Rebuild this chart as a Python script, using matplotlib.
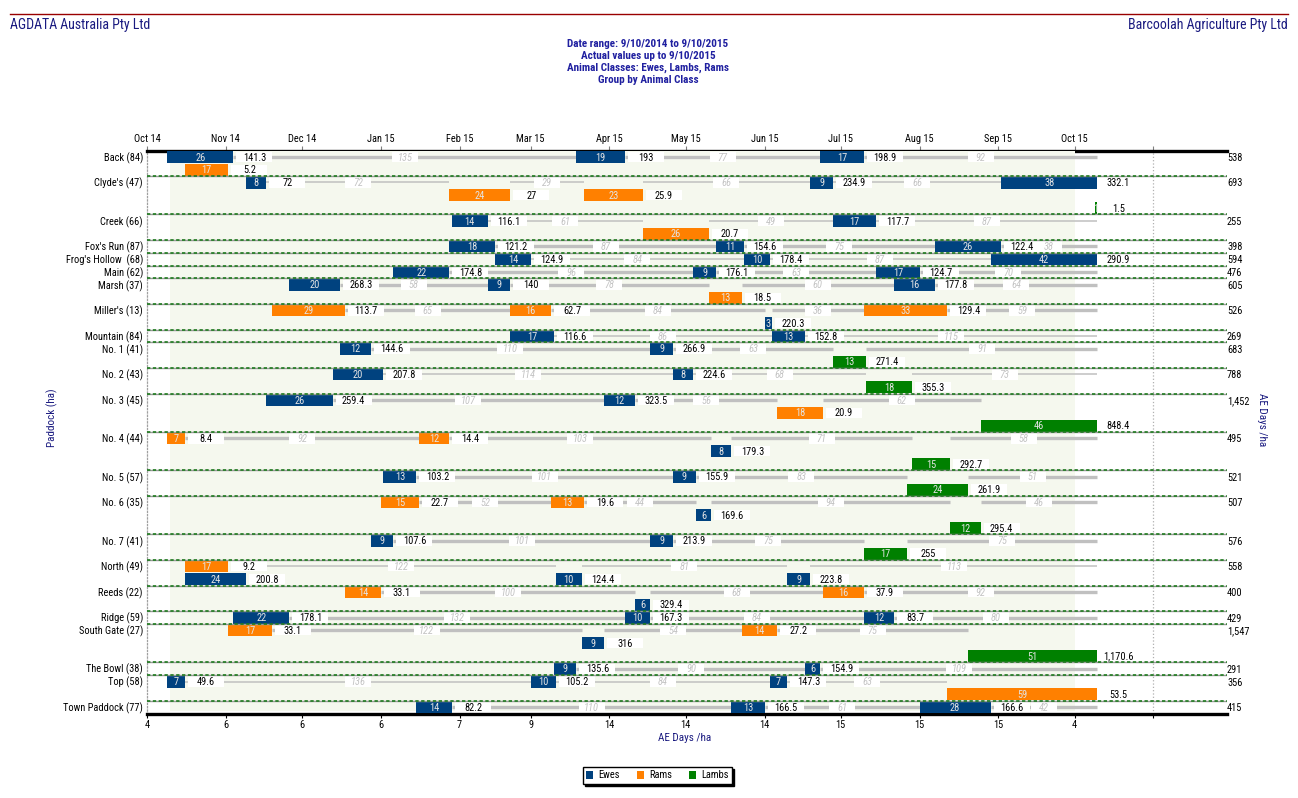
import matplotlib
matplotlib.use("Agg")
import matplotlib.pyplot as plt
import matplotlib.dates as mdates
from matplotlib.patches import Patch, Rectangle
from matplotlib.lines import Line2D
from matplotlib import font_manager
import numpy as np
import pandas as pd

# prefer a narrow face if one is installed
available = {f.name for f in font_manager.fontManager.ttflist}
narrow = [f for f in ['Liberation Sans Narrow', 'Roboto Condensed', 'DejaVu Sans Condensed'] if f in available]
plt.rcParams['font.family'] = narrow + ['Liberation Sans', 'DejaVu Sans']
scale = 1.0 if narrow else 0.9

# Paddocks, top to bottom, with the AE days/ha total shown on the right
paddocks = ["Back (84)", "Clyde's (47)", "Creek (66)", "Fox's Run (87)", "Frog's Hollow  (68)",
            "Main (62)", "Marsh (37)", "Miller's (13)", "Mountain (84)", "No. 1 (41)", "No. 2 (43)",
            "No. 3 (45)", "No. 4 (44)", "No. 5 (57)", "No. 6 (35)", "No. 7 (41)", "North (49)",
            "Reeds (22)", "Ridge (59)", "South Gate (27)", "The Bowl (38)", "Top (58)",
            "Town Paddock (77)"]
totals = ["538", "693", "255", "398", "594", "476", "605", "526", "269", "683", "788", "1,452",
          "495", "521", "507", "576", "558", "400", "429", "1,547", "291", "356", "415"]
lanes = [2, 3, 2, 1, 1, 1, 2, 2, 1, 2, 2, 3, 3, 2, 3, 2, 2, 2, 1, 3, 1, 2, 1]

# Grazing periods: paddock, lane, class, start (days after 9/10/2014), days, AE days/ha
bar_paddock = [0, 0, 0, 0,  1, 1, 1, 1, 1, 1,  2, 2, 2,  3, 3, 3,  4, 4, 4,  5, 5, 5,
               6, 6, 6, 6,  7, 7, 7, 7,  8, 8,  9, 9, 9,  10, 10, 10,  11, 11, 11, 11,
               12, 12, 12, 12,  13, 13, 13,  14, 14, 14, 14,  15, 15, 15,  16, 16, 16, 16,
               17, 17, 17,  18, 18, 18,  19, 19, 19, 19,  20, 20,  21, 21, 21, 21,  22, 22, 22]
bar_lane = [0, 1, 0, 0,  0, 1, 1, 0, 0, 2,  0, 1, 0,  0, 0, 0,  0, 0, 0,  0, 0, 0,
            0, 0, 1, 0,  0, 0, 1, 0,  0, 0,  0, 0, 1,  0, 0, 1,  0, 0, 1, 2,
            0, 0, 1, 2,  0, 0, 1,  0, 0, 1, 2,  0, 0, 1,  0, 1, 1, 1,
            0, 1, 0,  0, 0, 0,  0, 1, 0, 2,  0, 0,  0, 0, 0, 1,  0, 0, 0]
bar_class = ['E', 'R', 'E', 'E',  'E', 'R', 'R', 'E', 'E', 'L',  'E', 'R', 'E',  'E', 'E', 'E',
             'E', 'E', 'E',  'E', 'E', 'E',  'E', 'E', 'R', 'E',  'R', 'R', 'E', 'R',  'E', 'E',
             'E', 'E', 'L',  'E', 'E', 'L',  'E', 'E', 'R', 'L',  'R', 'R', 'E', 'L',
             'E', 'E', 'L',  'R', 'R', 'E', 'L',  'E', 'E', 'L',  'R', 'E', 'E', 'E',
             'R', 'E', 'R',  'E', 'E', 'E',  'R', 'E', 'R', 'L',  'E', 'E',  'E', 'E', 'E', 'R',
             'E', 'E', 'E']
bar_start = [0, 7, 161, 257,  31, 111, 164, 253, 328, 365,  112, 187, 262,  111, 216, 302,
             129, 227, 324,  89, 207, 279,  48, 126, 213, 286,  41, 135, 235, 274,  135, 238,
             68, 190, 262,  65, 199, 275,  39, 172, 240, 320,  0, 99, 214, 293,
             85, 199, 291,  84, 151, 208, 308,  80, 190, 274,  7, 7, 153, 244,
             70, 184, 258,  26, 180, 274,  24, 163, 226, 315,  152, 251,  0, 143, 237, 307,
             98, 222, 296]
bar_days = [26, 17, 19, 17,  8, 24, 23, 9, 38, 1,  14, 26, 17,  18, 11, 26,  14, 10, 42,
            22, 9, 17,  20, 9, 13, 16,  29, 16, 3, 33,  17, 13,  12, 9, 13,  20, 8, 18,
            26, 12, 18, 46,  7, 12, 8, 15,  13, 9, 24,  15, 13, 6, 12,  9, 9, 17,
            17, 24, 10, 9,  14, 6, 16,  22, 10, 12,  17, 9, 14, 51,  9, 6,  7, 10, 7, 59,
            14, 13, 28]
bar_value = ['141.3', '5.2', '193', '198.9',  '72', '27', '25.9', '234.9', '332.1', '1.5',
             '116.1', '20.7', '117.7',  '121.2', '154.6', '122.4',  '124.9', '178.4', '290.9',
             '174.8', '176.1', '124.7',  '268.3', '140', '18.5', '177.8',
             '113.7', '62.7', '220.3', '129.4',  '116.6', '152.8',  '144.6', '266.9', '271.4',
             '207.8', '224.6', '355.3',  '259.4', '323.5', '20.9', '848.4',
             '8.4', '14.4', '179.3', '292.7',  '103.2', '155.9', '261.9',
             '22.7', '19.6', '169.6', '295.4',  '107.6', '213.9', '255',
             '9.2', '200.8', '124.4', '223.8',  '33.1', '329.4', '37.9',
             '178.1', '167.3', '83.7',  '33.1', '316', '27.2', '1,170.6',  '135.6', '154.9',
             '49.6', '105.2', '147.3', '53.5',  '82.2', '166.5', '166.6']

class_names = {'E': 'Ewes', 'R': 'Rams', 'L': 'Lambs'}
class_colors = {'E': '#00427f', 'R': '#ff8000', 'L': '#008000'}

month_top = ['Oct 14', 'Nov 14', 'Dec 14', 'Jan 15', 'Feb 15', 'Mar 15', 'Apr 15', 'May 15',
             'Jun 15', 'Jul 15', 'Aug 15', 'Sep 15', 'Oct 15', '']
month_bottom = ['4', '6', '6', '6', '7', '9', '14', '14', '14', '15', '15', '15', '4', '']

# paddocks whose rest lines are drawn thin
thin_rest = [1, 2, 4, 8, 10, 16, 21]

range_start = pd.Timestamp('2014-10-09')
range_days = 366

fs = 7.5 * scale

fig = plt.figure(figsize=(12.98, 7.98), dpi=100)
W, H = 1298.0, 798.0
ax = fig.add_axes([147 / W, 1 - 713.5 / H, 1080 / W, 563 / H])

x0 = mdates.date2num(pd.Timestamp('2014-10-01'))
x1 = mdates.date2num(pd.Timestamp('2015-11-30'))
t0 = mdates.date2num(range_start)
ax.set_xlim(x0, x1)
nlanes = sum(lanes)
ax.set_ylim(nlanes, 0)
px = (x1 - x0) / 1080.0  # days per pixel

first_lane = np.concatenate([[0], np.cumsum(lanes)[:-1]])

# light shade for the reporting period
ax.axvspan(mdates.date2num(pd.Timestamp('2014-10-10')), mdates.date2num(pd.Timestamp('2015-10-01')),
           ymin=0.004, ymax=1, color='#f5f8ee', lw=0, zorder=2.6)
ax.axvline(mdates.date2num(pd.Timestamp('2015-11-01')), color='#b0b0b0', ls=':', lw=0.9, zorder=1)

# separators between paddocks
for fl in first_lane[1:]:
    ax.axhline(fl, color='#9a9a9a', lw=1.0, zorder=7)
    ax.axhline(fl, color='#1e7a1e', lw=1.2, ls=(0, (2, 1.5)), zorder=7.1)

# rest periods (paddock empty) on the first lane of each paddock
for p in range(len(paddocks)):
    idx = [i for i in range(len(bar_paddock)) if bar_paddock[i] == p]
    iv = sorted((bar_start[i], bar_start[i] + bar_days[i]) for i in idx)
    cur = iv[0][1]
    gaps = []
    for a, b in iv[1:]:
        if a > cur:
            gaps.append((cur, a))
        cur = max(cur, b)
    if cur < range_days:
        gaps.append((cur, range_days))
    yc = first_lane[p] + 0.5
    lw = 1.1 if p in thin_rest else 2.4
    for a, b in gaps:
        ax.plot([t0 + a, t0 + b], [yc, yc], color='#c0c0c0', lw=lw, solid_capstyle='butt', zorder=3)
        mid = t0 + (a + b) / 2.0
        ax.add_patch(Rectangle((mid - 13 * px, yc - 0.4), 26 * px, 0.8, fc='white', ec='none', zorder=5))
        ax.text(mid, yc + 0.05, str(int(round(b - a))), ha='center', va='center', fontsize=fs,
                style='italic', color='#c4c4c4', zorder=6)

# grazing bars with days inside and AE days/ha beside
for i in range(len(bar_paddock)):
    yc = first_lane[bar_paddock[i]] + bar_lane[i] + 0.5
    left = t0 + bar_start[i]
    ax.barh(yc, bar_days[i], left=left, height=0.94, color=class_colors[bar_class[i]],
            lw=0, zorder=4)
    ax.text(left + bar_days[i] / 2.0, yc + 0.05, str(bar_days[i]), ha='center', va='center',
            fontsize=fs, color='#e4e4e4', zorder=4.5)
    end = left + bar_days[i]
    ax.add_patch(Rectangle((end + 3 * px, yc - 0.4), 36 * px, 0.8, fc='white', ec='none', zorder=5))
    ax.text(end + 21 * px, yc + 0.05, bar_value[i], ha='center', va='center', fontsize=fs,
            color='black', zorder=6)

# paddock names and totals
for p in range(len(paddocks)):
    yc = first_lane[p] + 0.5
    ax.annotate(paddocks[p], xy=(0, yc), xycoords=('axes fraction', 'data'), xytext=(-4, -1),
                textcoords='offset pixels', ha='right', va='center', fontsize=fs)
    ax.annotate(totals[p], xy=(1, yc), xycoords=('axes fraction', 'data'), xytext=(0, -1),
                textcoords='offset pixels', ha='left', va='center', fontsize=fs)

# axes styling
for s in ['top', 'bottom']:
    ax.spines[s].set_linewidth(2.4)
    ax.spines[s].set_color('black')
ax.spines['right'].set_visible(False)
ax.spines['left'].set_linestyle(':')
ax.spines['left'].set_color('#a0a0a0')
ax.spines['left'].set_linewidth(0.9)
ax.set_yticks([])

ticks = mdates.date2num(pd.date_range('2014-10-01', '2015-11-01', freq='MS'))
ax.set_xticks(ticks)
ax.set_xticklabels(month_bottom)
ax.tick_params(axis='x', direction='out', length=3, width=0.8, pad=2, labelsize=fs)
sec = ax.secondary_xaxis('top')
sec.set_xticks(ticks)
sec.set_xticklabels(month_top)
sec.tick_params(axis='x', direction='out', length=3, width=0.8, pad=2, labelsize=fs, color='#808080')
sec.spines['top'].set_visible(False)

navy = '#1a1a80'
fig.add_artist(Line2D([10 / W, 1288 / W], [1 - 14 / H, 1 - 14 / H], color='#990000', lw=1,
                      transform=fig.transFigure))
fig.text(10 / W, 1 - 25 / H, 'AGDATA Australia Pty Ltd', ha='left', va='center',
         fontsize=10 * (1.0 if narrow else 0.85), color=navy)
fig.text(1288 / W, 1 - 25 / H, 'Barcoolah Agriculture Pty Ltd', ha='right', va='center',
         fontsize=10 * (1.0 if narrow else 0.85), color=navy)
header = ['Date range: 9/10/2014 to 9/10/2015', 'Actual values up to 9/10/2015',
          'Animal Classes: Ewes, Lambs, Rams', 'Group by Animal Class']
for k, line in enumerate(header):
    fig.text(648 / W, 1 - (44 + 12 * k) / H, line, ha='center', va='center',
             fontsize=8 * (1.0 if narrow else 0.93), fontweight='bold', color='#2020a0')

fig.text(685 / W, 1 - 738 / H, 'AE Days /ha', ha='center', va='center', fontsize=8, color=navy)
fig.text(52 / W, 1 - 418 / H, 'Paddock (ha)', ha='center', va='center', rotation=90, fontsize=8,
         color=navy)
fig.text(1262 / W, 1 - 420 / H, 'AE Days /ha', ha='center', va='center', rotation=270, fontsize=8,
         color=navy)

handles = [Patch(facecolor=class_colors[c], edgecolor='none') for c in ['E', 'R', 'L']]
leg = fig.legend(handles, [class_names[c] for c in ['E', 'R', 'L']], loc='center',
                 bbox_to_anchor=(657.5 / W, 1 - 775.5 / H), ncol=3, fontsize=7.5, frameon=True,
                 fancybox=False, edgecolor='black', handlelength=0.7, handleheight=0.9,
                 handletextpad=0.5, columnspacing=1.6, borderpad=0.3,
                 shadow={'ox': 1.5, 'oy': -1.5, 'facecolor': 'black', 'edgecolor': 'black', 'alpha': 1})
leg.get_frame().set_linewidth(1.0)

fig.savefig('out.png', dpi=100)
